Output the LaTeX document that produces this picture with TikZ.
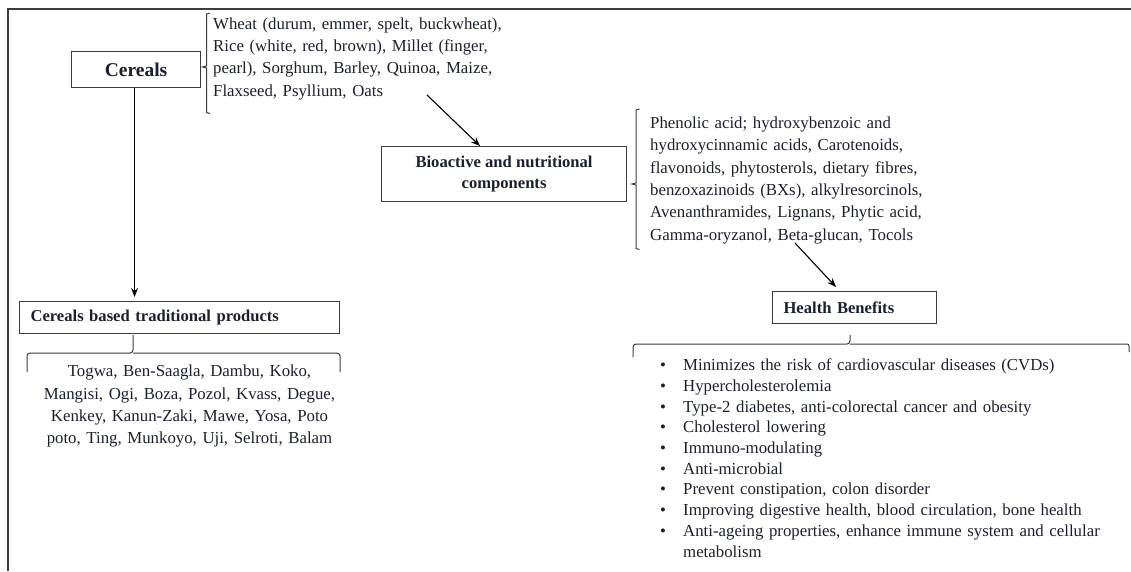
\documentclass[tikz,border=0pt]{standalone}
\usepackage{fontspec}
\setmainfont{Liberation Serif}
\usetikzlibrary{arrows.meta,calc,positioning}
\definecolor{ink}{RGB}{28,32,45}
\definecolor{rule}{RGB}{60,60,60}
\newcommand{\bodyfont}{\fontsize{16.8}{22.4}\selectfont}
\newcommand{\headfont}{\fontsize{16.6}{21.7}\selectfont\bfseries}
\newcommand{\bul}{\makebox[23pt][l]{\textbullet}}

\begin{document}
\begin{tikzpicture}[x=1pt,y=-1pt,>={Stealth[length=9pt,width=7pt]},
  hbox/.style={draw=rule,line width=1.1pt,inner sep=0pt,text=ink,font=\headfont,anchor=north west},
  list/.style={inner sep=0pt,text=ink,font=\bodyfont,align=left,anchor=base west},
  brc/.style={draw=rule,line width=1pt},
  arr/.style={->,line width=1.1pt}]
\useasboundingbox (0,0) rectangle (1131,571);
\draw[line width=2pt,draw=rule] (8,571) -- (8,9) -- (1131,9);

\node[hbox,minimum width=129,minimum height=36,font=\fontsize{19.5}{23}\selectfont\bfseries] (cereals) at (71,51) {Cereals};
\node[hbox,minimum width=245,minimum height=55,align=center] (bio) at (381,146) {Bioactive and nutritional\\components};
\node[hbox,minimum height=32,inner xsep=11,text width=298,align=left] (prods) at (19,301) {Cereals based traditional products};
\node[hbox,minimum height=32,inner xsep=11,text width=142,align=left] (hb) at (772,291) {Health Benefits};

\node[list,text width=320] (cerlist) at (213,29) {Wheat (durum, emmer, spelt, buckwheat),\\Rice (white, red, brown), Millet (finger,\\pearl), Sorghum, Barley, Quinoa, Maize,\\Flaxseed, Psyllium, Oats};
\node[list,text width=320] (comps) at (650,128.3) {Phenolic acid; hydroxybenzoic and\\hydroxycinnamic acids, Carotenoids,\\flavonoids, phytosterols, dietary fibres,\\benzoxazinoids (BXs), alkylresorcinols,\\Avenanthramides, Lignans, Phytic acid,\\Gamma-oryzanol, Beta-glucan, Tocols};
\node[list,text width=320,align=center,anchor=base] (prodlist) at (189.5,376.7) {Togwa, Ben-Saagla, Dambu, Koko,\\Mangisi, Ogi, Boza, Pozol, Kvass, Degue,\\Kenkey, Kanun-Zaki, Mawe, Yosa, Poto\\poto, Ting, Munkoyo, Uji, Selroti, Balam};
\node[list,text width=460,font=\fontsize{16.8}{20.7}\selectfont] (hblist) at (660,370.7) {\bul Minimizes the risk of cardiovascular diseases (CVDs)\\\bul Hypercholesterolemia\\\bul Type-2 diabetes, anti-colorectal cancer and obesity\\\bul Cholesterol lowering\\\bul Immuno-modulating\\\bul Anti-microbial\\\bul Prevent constipation, colon disorder\\\bul Improving digestive health, blood circulation, bone health\\\bul Anti-ageing properties, enhance immune system and cellular\\\hspace*{23pt}metabolism};

\draw[brc] (210,13) -- (206.5,14) -- (206.5,66) -- (202.5,67) -- (206.5,68) -- (206.5,112.5) -- (210,113.5);
\draw[brc] (639.5,109) -- (636,110) -- (636,183) -- (632,184) -- (636,185) -- (636,248.5) -- (639.5,249.5);
\draw[brc,rounded corners=3pt] (27,372) -- (27,353) -- (133,353) -- (133,335);
\draw[brc,rounded corners=3pt] (340,372) -- (340,353) -- (133,353);
\draw[brc,rounded corners=3pt] (633,357) -- (633,344) -- (850,344) -- (850,335);
\draw[brc,rounded corners=2pt] (850,344) -- (1129,344) -- (1129,352);

\coordinate (c0) at ($(cereals.south)+(-1.5,0)$);
\draw[arr,shorten >=4pt] (c0) -- (c0 |- prods.north);
\coordinate (c1) at (427,95);
\draw[arr] (c1) -- ($(bio.north west)+(99,0)$);
\coordinate (c2) at (795,243);
\draw[arr] (c2) -- ($(hb.north west)+(64,-4)$);
\end{tikzpicture}
\end{document}
